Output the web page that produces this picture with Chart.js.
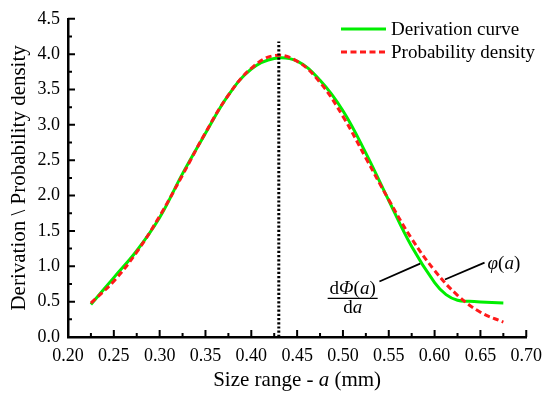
<!DOCTYPE html>
<html>
<head>
<meta charset="utf-8">
<script src="https://cdn.jsdelivr.net/npm/chart.js@4"></script>
<style>
  html, body { margin: 0; padding: 0; background: #fff; }
  #wrap { width: 550px; height: 397px; }
</style>
</head>
<body>
<div id="wrap"><canvas id="chart"></canvas></div>
<script>
// values
const derivX = [0.225, 0.25, 0.275, 0.30, 0.325, 0.35, 0.375, 0.40, 0.425, 0.45, 0.475, 0.50, 0.525, 0.55, 0.575, 0.60, 0.6125, 0.625, 0.6375, 0.65, 0.675];
const derivY = [0.46, 0.84, 1.22, 1.69, 2.31, 2.88, 3.42, 3.79, 3.94, 3.90, 3.63, 3.20, 2.60, 1.93, 1.28, 0.77, 0.60, 0.52, 0.505, 0.495, 0.48];

const probX = [0.225, 0.25, 0.275, 0.30, 0.325, 0.35, 0.375, 0.40, 0.425, 0.45, 0.475, 0.50, 0.525, 0.55, 0.575, 0.60, 0.625, 0.65, 0.675];
const probY = [0.48, 0.79, 1.20, 1.71, 2.29, 2.89, 3.42, 3.80, 3.98, 3.90, 3.60, 3.12, 2.53, 1.94, 1.39, 0.94, 0.59, 0.35, 0.21];

const peakX = [0.43, 0.43];
const peakY = [0, 4.18];

const seriesNames = ["Derivation curve", "Probability density"];
const xTitle = ["Size range - ", "a", " (mm)"];
const yTitle = "Derivation \\ Probability density";

const SERIF = "'Liberation Serif', 'Times New Roman', serif";
const GREEN = "#00ee00";
const RED = "#ff1a1a";

const toPoints = (xs, ys) => xs.map((x, i) => ({ x, y: ys[i] }));

// draws text pieces, odd-indexed ones in italic
function drawRuns(ctx, runs, x, y, size, align) {
  const fonts = runs.map((r) => (r[1] ? "italic " : "") + size + "px " + SERIF);
  const widths = runs.map((r, i) => { ctx.font = fonts[i]; return ctx.measureText(r[0]).width; });
  const total = widths.reduce((a, b) => a + b, 0);
  let cx = align === "center" ? x - total / 2 : x;
  ctx.textAlign = "left";
  ctx.textBaseline = "alphabetic";
  runs.forEach((r, i) => {
    ctx.font = fonts[i];
    ctx.fillText(r[0], cx, y);
    cx += widths[i];
  });
}

const extras = {
  id: "extras",
  afterDraw(chart) {
    const { ctx, chartArea: a, scales: { x, y } } = chart;
    ctx.save();
    ctx.strokeStyle = "#000";
    ctx.fillStyle = "#000";

    // inward ticks
    ctx.lineWidth = 2;
    ctx.beginPath();
    x.ticks.forEach((t, i) => {
      const px = x.getPixelForValue(t.value);
      ctx.moveTo(px, a.bottom); ctx.lineTo(px, a.bottom - 7);
      if (i < x.ticks.length - 1) {
        const mx = (px + x.getPixelForValue(x.ticks[i + 1].value)) / 2;
        ctx.moveTo(mx, a.bottom); ctx.lineTo(mx, a.bottom - 4);
      }
    });
    y.ticks.forEach((t, i) => {
      const py = y.getPixelForValue(t.value);
      ctx.moveTo(a.left, py); ctx.lineTo(a.left + 7, py);
      if (i < y.ticks.length - 1) {
        const my = (py + y.getPixelForValue(y.ticks[i + 1].value)) / 2;
        ctx.moveTo(a.left, my); ctx.lineTo(a.left + 4, my);
      }
    });
    ctx.stroke();

    // x axis title
    drawRuns(ctx, [[xTitle[0], false], [xTitle[1], true], [xTitle[2], false]],
      (a.left + a.right) / 2, 386, 21, "center");

    // legend
    const lx = 341, lw = 45;
    [[29, GREEN, []], [52, RED, [6, 3.5]]].forEach(([ly, col, dash], i) => {
      ctx.strokeStyle = col;
      ctx.lineWidth = 3;
      ctx.setLineDash(dash);
      ctx.beginPath(); ctx.moveTo(lx, ly); ctx.lineTo(lx + lw, ly); ctx.stroke();
      ctx.setLineDash([]);
      ctx.fillStyle = "#000";
      ctx.font = "19px " + SERIF;
      ctx.textBaseline = "middle";
      ctx.textAlign = "left";
      ctx.fillText(seriesNames[i], lx + lw + 5, ly + 1);
    });

    // leader lines
    ctx.strokeStyle = "#000";
    ctx.lineWidth = 1.8;
    ctx.beginPath();
    ctx.moveTo(x.getPixelForValue(0.5398), y.getPixelForValue(0.785));
    ctx.lineTo(x.getPixelForValue(0.5842), y.getPixelForValue(1.037));
    ctx.moveTo(x.getPixelForValue(0.6113), y.getPixelForValue(0.813));
    ctx.lineTo(x.getPixelForValue(0.6545), y.getPixelForValue(1.051));
    ctx.stroke();

    // phi(a) label
    drawRuns(ctx, [["φ", true], ["(", false], ["a", true], [")", false]],
      x.getPixelForValue(0.6578), y.getPixelForValue(0.967), 19, "left");

    // dPhi(a)/da fraction
    const fx = x.getPixelForValue(0.5106), fy = y.getPixelForValue(0.547);
    drawRuns(ctx, [["d", false], ["Φ", true], ["(", false], ["a", true], [")", false]], fx, fy - 4, 19, "center");
    ctx.lineWidth = 1.3;
    ctx.beginPath(); ctx.moveTo(fx - 25, fy); ctx.lineTo(fx + 25, fy); ctx.stroke();
    drawRuns(ctx, [["d", false], ["a", true]], fx, fy + 15, 19, "center");

    ctx.restore();
  }
};

new Chart(document.getElementById("chart"), {
  type: "line",
  data: {
    datasets: [
      {
        label: "peak",
        data: toPoints(peakX, peakY),
        borderColor: "#000",
        borderWidth: 3,
        borderDash: [2.2, 2],
        pointRadius: 0,
        tension: 0,
        order: 0
      },
      {
        label: seriesNames[1],
        data: toPoints(probX, probY),
        borderColor: RED,
        borderWidth: 3,
        borderDash: [6, 3.5],
        pointRadius: 0,
        tension: 0.4,
        order: 1
      },
      {
        label: seriesNames[0],
        data: toPoints(derivX, derivY),
        borderColor: GREEN,
        borderWidth: 3,
        pointRadius: 0,
        tension: 0.4,
        order: 2
      }
    ]
  },
  options: {
    responsive: true,
    maintainAspectRatio: false,
    animation: false,
    layout: { padding: { top: 16, right: 20, left: 0, bottom: 0 } },
    plugins: { legend: { display: false }, tooltip: { enabled: false } },
    scales: {
      x: {
        type: "linear",
        min: 0.2,
        max: 0.7,
        afterFit: (s) => { s.height = 60; },
        grid: { display: false, drawTicks: false },
        border: { display: true, color: "#000", width: 2.5 },
        ticks: {
          stepSize: 0.05,
          padding: 8,
          color: "#000",
          font: { family: SERIF, size: 18 },
          callback: (v) => Number(v).toFixed(2)
        }
      },
      y: {
        min: 0,
        max: 4.5,
        afterFit: (s) => { s.width = 68; },
        grid: { display: false, drawTicks: false },
        border: { display: true, color: "#000", width: 2.5 },
        title: {
          display: true,
          text: yTitle,
          color: "#000",
          font: { family: SERIF, size: 21 },
          padding: { top: 7, bottom: 0 }
        },
        ticks: {
          stepSize: 0.5,
          padding: 8,
          color: "#000",
          font: { family: SERIF, size: 18 },
          callback: (v) => Number(v).toFixed(1)
        }
      }
    }
  },
  plugins: [extras]
});
</script>
</body>
</html>
